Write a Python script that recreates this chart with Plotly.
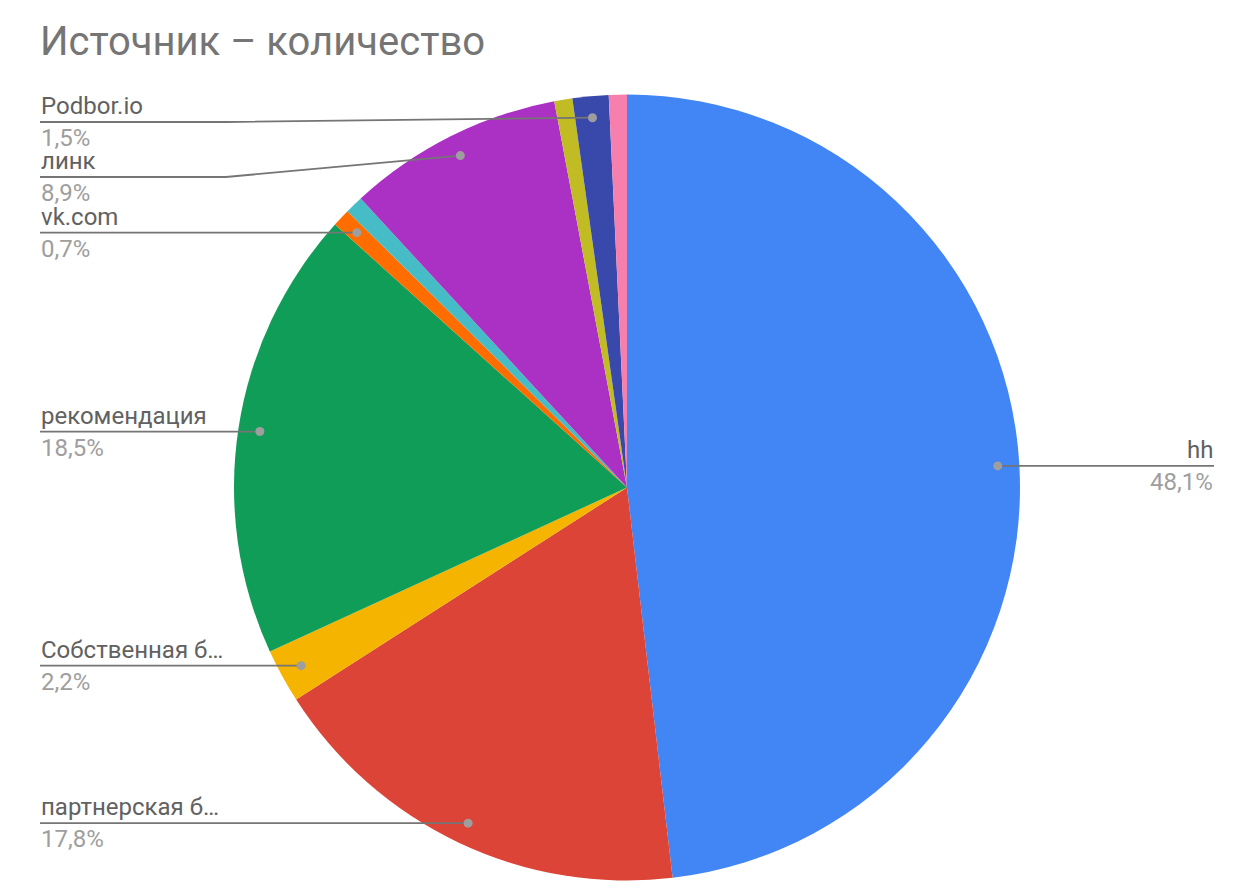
import math
import plotly.graph_objects as go

# ---- data ----
labels = ["hh", "партнерская база", "Собственная база", "рекомендация", "vk.com",
          "прочее 1", "линк", "прочее 2", "Podbor.io", "прочее 3"]
values = [65, 24, 3, 25, 1, 1, 12, 1, 2, 1]
colors = ["#4285F4", "#DB4437", "#F4B400", "#0F9D58", "#FF6D00",
          "#46BDC6", "#AB30C4", "#C2BC24", "#3949AB", "#F77FAE"]
label_shown = [True, True, True, True, True, False, True, False, True, False]
title = "Источник – количество"

# ---- layout constants (page pixel coords; page body has an 8px margin) ----
OFF = 8
W, H = 1238 - OFF, 892 - OFF
CX, CY, R = 627, 487.5, 393
FONT = "Roboto"
LEFT_X, RIGHT_X = 40, 1214
KINK_L, KINK_R = 226, 1012
DOT_FRAC = 0.945
SPACING = 55
TOP_MIN = 122
LBL_SIZE = 24

def px(x):
    return (x - OFF) / W

def py(y):
    return 1 - (y - OFF) / H

total = sum(values)
fig = go.Figure(go.Pie(
    labels=labels, values=values, sort=False, direction="clockwise", rotation=0,
    marker=dict(colors=colors, line=dict(width=0)), textinfo="none",
    domain=dict(x=[px(CX - R), px(CX + R)], y=[py(CY + R), py(CY - R)]),
    hovertemplate="%{label}<br>%{value} (%{percent})<extra></extra>",
))

def trunc(s, n=13):
    return s if len(s) <= n else s[:n] + "…"

# compute dot positions from slice angles
cum = 0
items = []
for lab, v, show in zip(labels, values, label_shown):
    th = 2 * math.pi * (cum + v / 2) / total
    cum += v
    if not show:
        continue
    dx = CX + DOT_FRAC * R * math.sin(th)
    dy = CY - DOT_FRAC * R * math.cos(th)
    pct = f"{100 * v / total:.1f}".replace(".", ",") + "%"
    items.append(dict(name=trunc(lab), pct=pct, dx=dx, dy=dy, side="R" if dx > CX else "L"))

shapes, annots = [], []
for side in ("L", "R"):
    group = sorted([it for it in items if it["side"] == side], key=lambda it: it["dy"])
    prev = -1e9
    for it in group:
        ly = max(it["dy"], prev + SPACING, TOP_MIN)
        prev = ly
        if side == "L":
            pts = [(LEFT_X, ly), (KINK_L, ly), (it["dx"], it["dy"])]
            tx, anchor = LEFT_X, "left"
        else:
            pts = [(it["dx"], it["dy"]), (KINK_R, ly), (RIGHT_X, ly)] if it["dx"] < KINK_R else \
                  [(it["dx"], it["dy"]), (RIGHT_X, ly)]
            tx, anchor = RIGHT_X, "right"
        path = "M " + " L ".join(f"{px(a)},{py(b)}" for a, b in pts)
        shapes.append(dict(type="path", xref="paper", yref="paper", path=path,
                           line=dict(color="#757575", width=1.8)))
        r = 4.5
        shapes.append(dict(type="circle", xref="paper", yref="paper",
                           x0=px(it["dx"] - r), x1=px(it["dx"] + r),
                           y0=py(it["dy"] + r), y1=py(it["dy"] - r),
                           fillcolor="#9E9E9E", line=dict(width=0)))
        annots.append(dict(x=px(tx), y=py(ly - 1), xref="paper", yref="paper",
                           xanchor=anchor, yanchor="bottom", text=it["name"], showarrow=False,
                           font=dict(family=FONT, size=LBL_SIZE, color="#616161"), borderpad=0))
        annots.append(dict(x=px(tx), y=py(ly + 1), xref="paper", yref="paper",
                           xanchor=anchor, yanchor="top", text=it["pct"], showarrow=False,
                           font=dict(family=FONT, size=LBL_SIZE, color="#9E9E9E"), borderpad=0))

annots.append(dict(x=px(38), y=py(42), xref="paper", yref="paper", xanchor="left",
                   yanchor="middle", text=title, showarrow=False,
                   font=dict(family=FONT, size=40, color="#757575")))

fig.update_layout(width=W, height=H, margin=dict(l=0, r=0, t=0, b=0),
                  paper_bgcolor="white", plot_bgcolor="white", showlegend=False,
                  shapes=shapes, annotations=annots)
fig.write_html("out.html")
